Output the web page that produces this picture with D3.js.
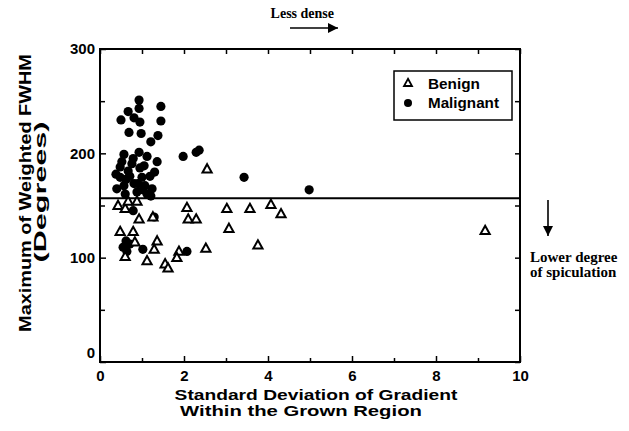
<!DOCTYPE html>
<html>
<head>
<meta charset="utf-8">
<script src="https://cdn.jsdelivr.net/npm/d3@7"></script>
<style>
  html, body { margin: 0; padding: 0; background: #fff; }
  svg { display: block; }
</style>
</head>
<body>
<svg id="chart" width="629" height="431"></svg>
<script>
// Benign lesions (open triangles)
const benignX = [0.43, 0.60, 0.67, 0.88, 0.93, 1.26, 2.07, 2.10, 2.29, 0.48, 0.79, 0.83,
                 0.60, 1.12, 1.36, 1.29, 1.55, 1.62, 1.88, 1.83, 2.55, 2.52, 3.02, 3.07,
                 3.57, 3.76, 4.07, 4.31, 9.17];
const benignY = [150, 147, 154, 154, 137, 139, 148, 137, 137, 125, 125, 115,
                 101, 97, 116, 108, 94, 90, 106, 100, 185, 109, 147, 128,
                 147, 112, 151, 142, 126];

// Malignant lesions (filled circles)
const malignantX = [0.93, 0.93, 1.45, 0.67, 0.50, 0.81, 0.95, 1.45, 0.69, 0.98, 1.38, 1.21,
                    0.57, 0.93, 1.12, 1.36, 0.48, 0.76, 1.05, 0.48, 0.71, 1.00, 1.19,
                    0.57, 0.81, 1.07, 1.24, 0.60, 0.88, 1.12, 0.38, 0.40, 0.79, 0.67, 0.90,
                    0.62, 0.95, 1.30, 0.52, 1.02,
                    1.98, 2.29, 2.36, 3.43, 4.98,
                    1.21, 0.79, 0.62, 0.55, 0.64, 0.71, 1.02, 2.07, 1.29];
const malignantY = [251, 243, 245, 240, 232, 234, 230, 231, 220, 219, 217, 211,
                    199, 201, 197, 192, 187, 190, 188, 177, 178, 177, 178,
                    169, 171, 169, 166, 161, 163, 161, 180, 166, 195, 183, 171,
                    175, 186, 182, 192, 165,
                    197, 201, 203, 177, 165,
                    159, 145, 116, 110, 106, 113, 108, 106, 139];

const xTicks = [0, 2, 4, 6, 8, 10];
const xMinor = [1, 3, 5, 7, 9];
const yTicks = [0, 100, 200, 300];
const yMinor = [50, 150, 250];
const threshold = 157;

const svg = d3.select("#chart");
const W = 629, H = 431;
svg.append("rect").attr("width", W).attr("height", H).attr("fill", "#fff");

const x = d3.scaleLinear().domain([0, 10]).range([100, 520]);
const y = d3.scaleLinear().domain([0, 300]).range([362, 49]);

const sans = "'Liberation Sans', Arial, Helvetica, sans-serif";
const serif = "'Liberation Serif', 'Times New Roman', serif";

// Axes: ticks point inward on all four sides
function styleAxis(g) {
  g.select(".domain").remove();
  g.selectAll(".tick line").attr("stroke", "#000").attr("stroke-width", 1.5);
  g.selectAll(".tick text")
    .attr("fill", "#000")
    .style("font-family", sans)
    .style("font-weight", "bold")
    .style("font-size", "15px");
}

svg.append("g").attr("transform", `translate(0,${y(0)})`)
  .call(d3.axisBottom(x).tickValues(xTicks).tickSize(-6).tickPadding(8).tickFormat(d3.format("d")))
  .call(styleAxis);
svg.append("g").attr("transform", `translate(0,${y(0)})`)
  .call(d3.axisBottom(x).tickValues(xMinor).tickSize(-4).tickFormat(""))
  .call(styleAxis);
svg.append("g").attr("transform", `translate(0,${y(300)})`)
  .call(d3.axisTop(x).tickValues(xTicks.concat(xMinor)).tickSize(-5).tickFormat(""))
  .call(styleAxis);

const left = svg.append("g").attr("transform", `translate(${x(0)},0)`)
  .call(d3.axisLeft(y).tickValues(yTicks).tickSize(-6).tickPadding(5).tickFormat(d3.format("d")))
  .call(styleAxis);
svg.append("g").attr("transform", `translate(${x(0)},0)`)
  .call(d3.axisLeft(y).tickValues(yMinor).tickSize(-5).tickFormat(""))
  .call(styleAxis);
svg.append("g").attr("transform", `translate(${x(10)},0)`)
  .call(d3.axisRight(y).tickValues(yTicks.concat(yMinor)).tickSize(-5).tickFormat(""))
  .call(styleAxis);

// the y-axis zero sits a little above the corner
left.selectAll(".tick").filter(d => d === 0).select("text").attr("y", -9);

// plot frame
svg.append("rect")
  .attr("x", x(0)).attr("y", y(300))
  .attr("width", x(10) - x(0)).attr("height", y(0) - y(300))
  .attr("fill", "none").attr("stroke", "#000").attr("stroke-width", 2);

// decision threshold
svg.append("line")
  .attr("x1", x(0)).attr("x2", x(10))
  .attr("y1", y(threshold)).attr("y2", y(threshold))
  .attr("stroke", "#000").attr("stroke-width", 2);

const malignant = malignantX.map((v, i) => ({ x: v, y: malignantY[i] }));
const benign = benignX.map((v, i) => ({ x: v, y: benignY[i] }));

const tri = (s) => `M0,${-s * 1.05}L${s},${s * 0.75}L${-s},${s * 0.75}Z`;

svg.append("g").selectAll("circle").data(malignant).join("circle")
  .attr("cx", d => x(d.x)).attr("cy", d => y(d.y)).attr("r", 4.6)
  .attr("fill", "#000");

svg.append("g").selectAll("path").data(benign).join("path")
  .attr("transform", d => `translate(${x(d.x)},${y(d.y)})`)
  .attr("d", tri(4.6))
  .attr("fill", "#fff").attr("stroke", "#000").attr("stroke-width", 2)
  .attr("stroke-linejoin", "miter");

// Wide bold text: draw at a given size, then stretch horizontally to a set width
function wideText(parent, t, opts) {
  const g = parent.append("g")
    .attr("transform", `translate(${opts.x},${opts.y})${opts.rotate ? " rotate(-90)" : ""}`);
  const el = g.append("text")
    .attr("text-anchor", opts.anchor || "start")
    .style("font-family", opts.family || sans)
    .style("font-weight", "bold")
    .style("font-size", opts.size + "px")
    .text(t);
  const natural = el.node().getComputedTextLength();
  el.attr("transform", `scale(${opts.width / natural},1)`);
  return el;
}

// legend
const lg = svg.append("g");
lg.append("rect").attr("x", 394).attr("y", 71).attr("width", 118).attr("height", 49)
  .attr("fill", "#fff").attr("stroke", "#000").attr("stroke-width", 1.5);
lg.append("path").attr("transform", "translate(408,83)").attr("d", tri(4))
  .attr("fill", "#fff").attr("stroke", "#000").attr("stroke-width", 1.8);
lg.append("circle").attr("cx", 408).attr("cy", 103).attr("r", 4).attr("fill", "#000");
wideText(lg, "Benign", { x: 428, y: 89, size: 14, width: 52 });
wideText(lg, "Malignant", { x: 428, y: 108, size: 14, width: 71 });

// axis titles
wideText(svg, "Standard Deviation of Gradient", { x: 316, y: 399.5, size: 14.5, width: 283, anchor: "middle" });
wideText(svg, "Within the Grown Region", { x: 301, y: 416, size: 14.5, width: 242, anchor: "middle" });
wideText(svg, "Maximum of Weighted FWHM", { x: 31, y: 193, size: 17, width: 278, anchor: "middle", rotate: true });
wideText(svg, "(Degrees)", { x: 46, y: 192, size: 17, width: 141, anchor: "middle", rotate: true });

// annotations
const defs = svg.append("defs");
defs.append("marker").attr("id", "head").attr("viewBox", "0 0 10 10")
  .attr("refX", 10).attr("refY", 5).attr("markerWidth", 16).attr("markerHeight", 10)
  .attr("markerUnits", "userSpaceOnUse").attr("orient", "auto")
  .append("path").attr("d", "M0,0L10,5L0,10Z").attr("fill", "#000");

svg.append("text").attr("x", 334).attr("y", 18).attr("text-anchor", "end")
  .style("font-family", serif).style("font-weight", "bold").style("font-size", "14px")
  .text("Less dense");
svg.append("line").attr("x1", 290).attr("x2", 338).attr("y1", 28).attr("y2", 28)
  .attr("stroke", "#000").attr("stroke-width", 1.6).attr("marker-end", "url(#head)");

svg.append("line").attr("x1", 548).attr("x2", 548).attr("y1", 200).attr("y2", 236)
  .attr("stroke", "#000").attr("stroke-width", 1.6).attr("marker-end", "url(#head)");
svg.append("text").attr("x", 530).attr("y", 262)
  .style("font-family", serif).style("font-weight", "bold").style("font-size", "15px")
  .text("Lower degree");
svg.append("text").attr("x", 530).attr("y", 277)
  .style("font-family", serif).style("font-weight", "bold").style("font-size", "15px")
  .text("of spiculation");
</script>
</body>
</html>
